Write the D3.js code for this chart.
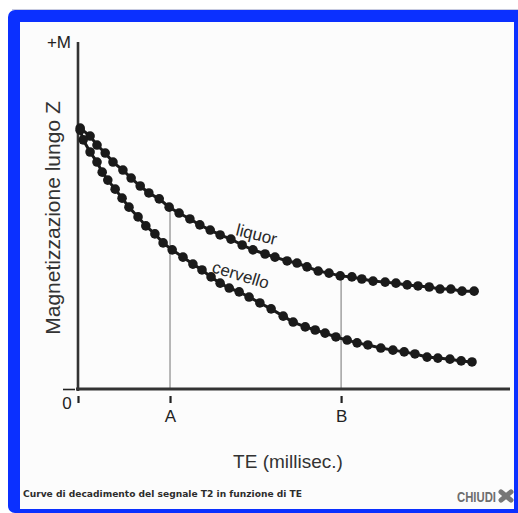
<!DOCTYPE html>
<html lang="it">

<head>
    <meta charset="UTF-8">
    <title>Curve di decadimento T2</title>
    <script src="https://d3js.org/d3.v7.min.js"></script>

    <style>
        body {
            margin: 0;
            background: #fff;
        }

        svg {
            display: block;
            font-family: "Liberation Sans", Arial, sans-serif;
        }
    </style>

</head>

<body>
    <svg id="chart" width="518" height="513"></svg>

    <script>
        // values: TE (arbitrary 0-100) and magnetization in % of M
        const liquorTE = [0.5, 2.8, 4.4, 6.3, 8.1, 10.4, 12.3, 14.4, 16.4, 18.8, 21.1, 23.4, 25.9, 28.2, 30.6, 32.9,
            35.4, 38.0, 40.5, 43.3, 45.6, 48.4, 50.7, 53.0, 55.6, 58.1, 60.7, 63.4, 65.7, 68.3, 71.1, 73.6, 76.2,
            78.7, 81.3, 83.8, 86.3, 88.9, 91.7];
        const liquorM = [75.2, 72.9, 70.3, 68.0, 65.4, 63.1, 60.8, 58.5, 56.5, 54.8, 52.4, 50.7, 49.0, 47.3, 45.8, 44.4,
            43.2, 41.5, 40.1, 38.9, 38.0, 36.9, 36.3, 35.2, 34.0, 33.4, 32.6, 32.3, 31.7, 31.1, 30.8, 30.5, 30.0,
            29.7, 29.4, 28.8, 28.8, 28.2, 28.2];

        const cervelloTE = [0.5, 1.2, 2.8, 4.4, 5.6, 6.9, 8.6, 10.2, 11.8, 13.9, 15.7, 17.8, 19.7, 21.8, 24.3, 26.6,
            28.7, 30.8, 32.9, 35.0, 37.3, 39.6, 42.1, 44.7, 47.5, 49.8, 52.6, 54.9, 57.2, 59.7, 62.3, 64.6, 67.1,
            70.1, 72.9, 75.5, 78.0, 80.8, 83.3, 86.1, 88.7, 91.2];
        const cervelloM = [74.6, 71.8, 68.3, 65.4, 62.5, 60.2, 57.6, 55.0, 52.4, 49.6, 47.0, 44.7, 42.1, 40.1, 38.0, 36.0,
            34.3, 32.3, 30.5, 29.1, 28.0, 26.5, 24.8, 23.1, 21.0, 19.3, 17.9, 17.0, 16.1, 15.0, 14.1, 13.3, 12.7,
            11.8, 11.2, 10.7, 10.1, 9.2, 8.9, 8.6, 8.1, 7.8];

        // the two echo times marked on the axis
        const markTE = [21.3, 60.9];
        const markLabels = ["A", "B"];

        const seriesNames = ["liquor", "cervello"];
        const caption = "Curve di decadimento del segnale T2 in funzione di TE";

        const svg = d3.select("#chart");

        // popup frame
        svg.append("rect")
            .attr("x", 8).attr("y", 10)
            .attr("width", 530).attr("height", 503)
            .attr("rx", 7)
            .attr("fill", "#0b30ff");
        svg.append("line")
            .attr("x1", 12).attr("x2", 518)
            .attr("y1", 9.5).attr("y2", 9.5)
            .attr("stroke", "#c8cbe0");
        svg.append("rect")
            .attr("x", 20).attr("y", 22)
            .attr("width", 494).attr("height", 487)
            .attr("fill", "#fcfcfc");

        // scales
        const x = d3.scaleLinear().domain([0, 100]).range([78, 510]);
        const y = d3.scaleLinear().domain([0, 100]).range([389, 42]);

        const ink = "#222";

        // vertical guides from the liquor curve down to the axis
        const liquorAt = te => {
            const i = d3.minIndex(liquorTE, v => Math.abs(v - te));
            return liquorM[i];
        };
        svg.append("g")
            .selectAll("line")
            .data(markTE)
            .join("line")
            .attr("x1", d => x(d)).attr("x2", d => x(d))
            .attr("y1", d => y(liquorAt(d)))
            .attr("y2", y(0))
            .attr("stroke", "#8a8a8a")
            .attr("stroke-width", 1.2);

        // axes lines
        svg.append("line")
            .attr("x1", x(0)).attr("x2", x(0))
            .attr("y1", y(100)).attr("y2", y(0) + 2)
            .attr("stroke", "#333").attr("stroke-width", 2.6);
        svg.append("line")
            .attr("x1", x(0) - 2).attr("x2", 510)
            .attr("y1", y(0)).attr("y2", y(0))
            .attr("stroke", "#333").attr("stroke-width", 3);

        // x axis ticks (below the axis line, with a gap)
        const xAxis = svg.append("g")
            .attr("transform", `translate(0, ${y(0) + 7})`)
            .call(d3.axisBottom(x)
                .tickValues([0].concat(markTE))
                .tickSize(7)
                .tickPadding(7)
                .tickFormat((d, i) => i === 0 ? "" : markLabels[i - 1]));
        xAxis.select(".domain").remove();
        xAxis.selectAll(".tick line").attr("stroke", ink).attr("stroke-width", 2.2);
        xAxis.selectAll(".tick text")
            .attr("fill", ink)
            .style("font-family", "Liberation Sans, Arial, sans-serif")
            .style("font-size", "17px");

        // y axis: zero tick on the left, "+M" at the top
        const yAxis = svg.append("g")
            .attr("transform", `translate(${x(0) - 3}, 0)`)
            .call(d3.axisLeft(y)
                .tickValues([0, 100])
                .tickSize(12)
                .tickPadding(4)
                .tickFormat(d => d === 100 ? "+M" : ""));
        yAxis.select(".domain").remove();
        yAxis.selectAll(".tick line")
            .attr("stroke", ink)
            .attr("stroke-width", 1.6)
            .attr("opacity", d => d === 100 ? 0 : 1);
        yAxis.selectAll(".tick text")
            .attr("fill", ink)
            .attr("x", -4)
            .style("font-family", "Liberation Sans, Arial, sans-serif")
            .style("font-size", "17px");

        svg.append("text")
            .attr("x", 67).attr("y", 409)
            .attr("text-anchor", "middle")
            .attr("fill", ink)
            .style("font-size", "17px")
            .text("0");

        // axis titles
        svg.append("text")
            .attr("transform", `translate(60, 218) rotate(-90)`)
            .attr("text-anchor", "middle")
            .attr("fill", "#333")
            .style("font-size", "21px")
            .text("Magnetizzazione lungo Z");

        svg.append("text")
            .attr("x", 288).attr("y", 468)
            .attr("text-anchor", "middle")
            .attr("fill", "#333")
            .style("font-size", "19px")
            .text("TE (millisec.)");

        // curves
        const series = [
            { name: seriesNames[0], te: liquorTE, m: liquorM },
            { name: seriesNames[1], te: cervelloTE, m: cervelloM }
        ];

        const line = d3.line()
            .x(d => x(d[0]))
            .y(d => y(d[1]));

        series.forEach(s => {
            const pts = d3.zip(s.te, s.m);
            svg.append("path")
                .datum(pts)
                .attr("d", line)
                .attr("fill", "none")
                .attr("stroke", "#1a1a1a")
                .attr("stroke-width", 3);
            svg.append("g")
                .selectAll("circle")
                .data(pts)
                .join("circle")
                .attr("cx", d => x(d[0]))
                .attr("cy", d => y(d[1]))
                .attr("r", 4.8)
                .attr("fill", "#1a1a1a");
        });

        // curve labels
        svg.append("text")
            .attr("transform", "translate(235, 235) rotate(14)")
            .attr("fill", "#2a2a2a")
            .style("font-size", "17px")
            .text(seriesNames[0]);
        svg.append("text")
            .attr("transform", "translate(211, 272) rotate(17)")
            .attr("fill", "#2a2a2a")
            .style("font-size", "17px")
            .text(seriesNames[1]);

        // caption bar
        svg.append("text")
            .attr("x", 23).attr("y", 497)
            .attr("fill", "#2d2d2d")
            .style("font-family", "DejaVu Sans, Verdana, sans-serif")
            .style("font-weight", "bold")
            .style("font-size", "9px")
            .attr("textLength", 279)
            .attr("lengthAdjust", "spacingAndGlyphs")
            .text(caption);

        svg.append("text")
            .attr("x", 457).attr("y", 502)
            .attr("fill", "#6e6e6e")
            .style("font-family", "Liberation Sans, Arial, sans-serif")
            .style("font-weight", "bold")
            .style("font-size", "14px")
            .attr("textLength", 39)
            .attr("lengthAdjust", "spacingAndGlyphs")
            .text("CHIUDI");

        // close icon
        const close = svg.append("g").attr("transform", "translate(506, 496)");
        close.selectAll("line")
            .data([40, -40])
            .join("line")
            .attr("x1", -6.5).attr("x2", 6.5)
            .attr("y1", 0).attr("y2", 0)
            .attr("transform", d => `rotate(${d})`)
            .attr("stroke", "#777")
            .attr("stroke-width", 5)
            .attr("stroke-linecap", "round");
    </script>

</body>

</html>
